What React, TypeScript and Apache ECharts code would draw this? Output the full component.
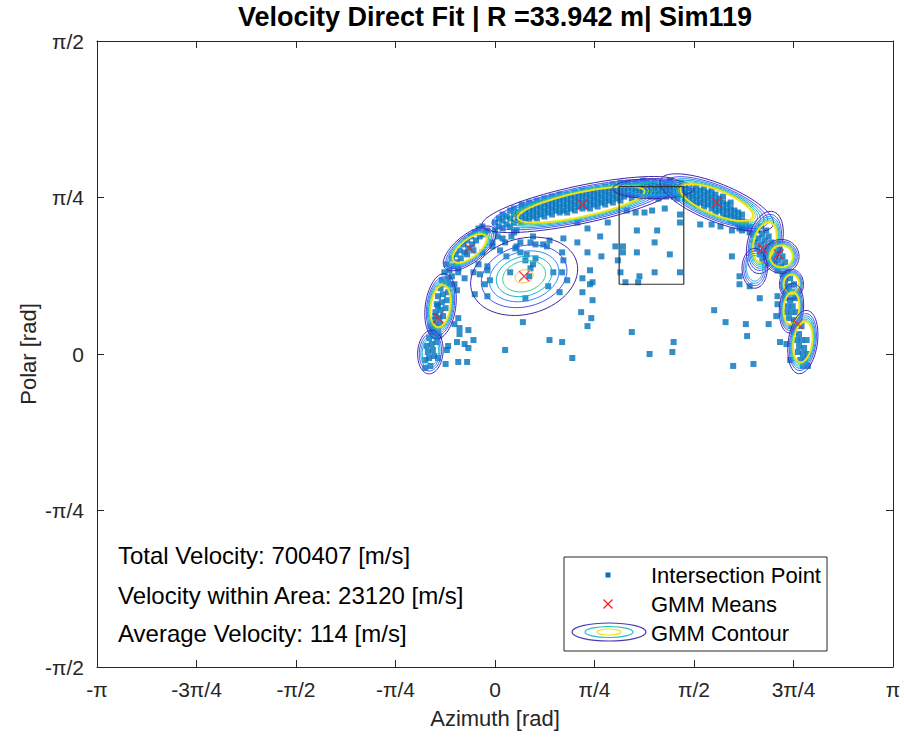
import React, { useEffect, useRef } from 'react';
import * as echarts from 'echarts';

const TITLE = 'Velocity Direct Fit | R =33.942 m| Sim119';
const X_NAME = 'Azimuth [rad]';
const Y_NAME = 'Polar [rad]';
const X_TICK_LABELS = ['-π', '-3π/4', '-π/2', '-π/4', '0', 'π/4', 'π/2', '3π/4', 'π'];
const Y_TICK_LABELS = ['-π/2', '-π/4', '0', 'π/4', 'π/2'];
const STAT_LINES = ['Total Velocity: 700407 [m/s]', 'Velocity within Area: 23120 [m/s]', 'Average Velocity: 114 [m/s]'];
const LEGEND_NAMES = ['Intersection Point', 'GMM Means', 'GMM Contour'];

// intersection points [azimuth, polar] (rad)
const BAND_LEFT_LEG = [
  [-0.55, -0.07], [-0.51, -0.06], [-0.55, -0.03], [-0.52, -0.02], [-0.48, -0.01], [-0.53, 0.01], [-0.49, 0.02],
  [-0.54, 0.04], [-0.5, 0.05], [-0.46, 0.06], [-0.52, 0.08], [-0.48, 0.09], [-0.44, 0.09], [-0.5, 0.11], [-0.45, 0.12],
  [-0.51, 0.14], [-0.47, 0.15], [-0.43, 0.15], [-0.49, 0.17], [-0.44, 0.18], [-0.41, 0.19], [-0.47, 0.21], [-0.43, 0.22],
  [-0.39, 0.23], [-0.46, 0.25], [-0.42, 0.26], [-0.38, 0.27], [-0.45, 0.29], [-0.41, 0.3], [-0.37, 0.31], [-0.43, 0.33],
  [-0.39, 0.35], [-0.35, 0.35], [-0.42, 0.37], [-0.37, 0.38], [-0.34, 0.39], [-0.47, 0.19], [-0.45, 0.24], [-0.49, 0.12],
];
const BAND_UPPER_LEFT = [
  [-0.4, 0.41], [-0.36, 0.42], [-0.33, 0.44], [-0.38, 0.45], [-0.3, 0.46], [-0.34, 0.48], [-0.27, 0.48], [-0.31, 0.5],
  [-0.24, 0.51], [-0.28, 0.52], [-0.21, 0.53], [-0.25, 0.55], [-0.18, 0.55], [-0.22, 0.57], [-0.15, 0.57], [-0.19, 0.59],
  [-0.12, 0.59], [-0.16, 0.61], [-0.09, 0.6], [-0.13, 0.63], [-0.06, 0.62], [-0.1, 0.64], [-0.22, 0.5], [-0.17, 0.52], [-0.29, 0.43],
];
const BAND_TOP_LEFT = [
  [0.0, 0.62], [0.0, 0.66], [0.03, 0.64], [0.03, 0.68], [0.06, 0.63], [0.06, 0.67], [0.06, 0.7], [0.09, 0.65], [0.09, 0.69],
  [0.12, 0.64], [0.12, 0.68], [0.12, 0.72], [0.15, 0.66], [0.15, 0.7], [0.15, 0.73], [0.18, 0.67], [0.18, 0.71],
  [0.21, 0.66], [0.21, 0.69], [0.21, 0.73], [0.21, 0.75], [0.24, 0.68], [0.24, 0.71], [0.24, 0.74],
  [0.27, 0.67], [0.27, 0.7], [0.27, 0.73], [0.27, 0.76], [0.3, 0.69], [0.3, 0.72], [0.3, 0.75],
  [0.33, 0.68], [0.33, 0.71], [0.33, 0.74], [0.33, 0.77], [0.36, 0.7], [0.36, 0.73], [0.36, 0.76],
  [0.39, 0.69], [0.39, 0.72], [0.39, 0.75], [0.39, 0.78], [0.42, 0.71], [0.42, 0.74], [0.42, 0.77],
  [0.45, 0.7], [0.45, 0.73], [0.45, 0.76], [0.45, 0.79], [0.48, 0.72], [0.48, 0.75], [0.48, 0.78],
  [0.51, 0.71], [0.51, 0.74], [0.51, 0.77], [0.51, 0.8], [0.54, 0.72], [0.54, 0.75], [0.54, 0.78],
  [0.57, 0.71], [0.57, 0.74], [0.57, 0.77], [0.57, 0.8], [0.6, 0.73], [0.6, 0.76], [0.6, 0.79],
  [0.63, 0.72], [0.63, 0.75], [0.63, 0.78], [0.63, 0.81], [0.66, 0.74], [0.66, 0.77], [0.66, 0.8],
  [0.69, 0.73], [0.69, 0.76], [0.69, 0.79], [0.69, 0.82], [0.72, 0.74], [0.72, 0.77], [0.72, 0.8],
  [0.75, 0.73], [0.75, 0.76], [0.75, 0.79], [0.75, 0.82], [0.78, 0.75], [0.78, 0.78], [0.78, 0.81],
  [0.81, 0.74], [0.81, 0.77], [0.81, 0.8], [0.81, 0.83], [0.84, 0.76], [0.84, 0.79], [0.84, 0.82],
  [0.87, 0.75], [0.87, 0.78], [0.87, 0.81], [0.87, 0.84], [0.9, 0.77], [0.9, 0.8], [0.9, 0.83],
  [0.93, 0.76], [0.93, 0.79], [0.93, 0.82], [0.93, 0.85], [0.96, 0.78], [0.96, 0.81], [0.96, 0.84],
  [0.99, 0.77], [0.99, 0.8], [0.99, 0.83], [0.99, 0.86], [1.02, 0.79], [1.02, 0.82], [1.02, 0.85],
  [1.05, 0.8], [1.05, 0.83], [1.05, 0.86], [1.08, 0.78], [1.08, 0.81], [1.08, 0.84],
  [1.11, 0.8], [1.11, 0.83], [1.11, 0.86], [1.14, 0.79], [1.14, 0.82], [1.14, 0.85],
  [1.17, 0.81], [1.17, 0.84], [1.17, 0.87], [1.2, 0.8], [1.2, 0.83], [1.2, 0.86],
];
const BAND_TOP_CENTER = [
  [1.23, 0.79], [1.23, 0.82], [1.23, 0.85], [1.26, 0.8], [1.26, 0.83], [1.26, 0.86], [1.29, 0.78], [1.29, 0.81], [1.29, 0.84],
  [1.32, 0.8], [1.32, 0.83], [1.32, 0.86], [1.35, 0.79], [1.35, 0.82], [1.35, 0.85], [1.38, 0.81], [1.38, 0.84], [1.38, 0.87],
  [1.41, 0.79], [1.41, 0.82], [1.41, 0.85], [1.44, 0.78], [1.44, 0.81], [1.44, 0.84], [1.47, 0.8], [1.47, 0.83], [1.47, 0.86],
  [1.5, 0.78], [1.5, 0.81], [1.5, 0.84], [1.53, 0.77], [1.53, 0.8], [1.53, 0.83],
];
const BAND_TOP_RIGHT = [
  [1.56, 0.76], [1.56, 0.79], [1.56, 0.82], [1.59, 0.75], [1.59, 0.78], [1.59, 0.81], [1.59, 0.84],
  [1.62, 0.76], [1.62, 0.79], [1.62, 0.82], [1.65, 0.74], [1.65, 0.77], [1.65, 0.8], [1.65, 0.83],
  [1.68, 0.75], [1.68, 0.78], [1.68, 0.81], [1.71, 0.73], [1.71, 0.76], [1.71, 0.79], [1.71, 0.82],
  [1.74, 0.71], [1.74, 0.74], [1.74, 0.77], [1.74, 0.8], [1.77, 0.72], [1.77, 0.75], [1.77, 0.78],
  [1.8, 0.7], [1.8, 0.73], [1.8, 0.76], [1.8, 0.79], [1.83, 0.69], [1.83, 0.72], [1.83, 0.75],
  [1.86, 0.67], [1.86, 0.7], [1.86, 0.73], [1.86, 0.76], [1.89, 0.66], [1.89, 0.69], [1.89, 0.72],
  [1.92, 0.65], [1.92, 0.68], [1.92, 0.71], [1.95, 0.64], [1.95, 0.67], [1.95, 0.7],
  [1.98, 0.63], [1.98, 0.66], [2.01, 0.61], [2.01, 0.64],
];
const BAND_RIGHT_LOBES = [
  [2.04, 0.6], [2.07, 0.62], [2.1, 0.64], [2.05, 0.56], [2.08, 0.58], [2.11, 0.6], [2.14, 0.62], [2.07, 0.53],
  [2.1, 0.55], [2.13, 0.57], [2.16, 0.59], [2.09, 0.5], [2.12, 0.52], [2.15, 0.54], [2.18, 0.56], [2.11, 0.47],
  [2.14, 0.49], [2.17, 0.51], [2.2, 0.53], [2.23, 0.55], [2.16, 0.46], [2.19, 0.48], [2.22, 0.5], [2.25, 0.52],
  [2.21, 0.45], [2.24, 0.47], [2.27, 0.49], [2.23, 0.42], [2.26, 0.44], [2.29, 0.46],
];
const BAND_RIGHT_LEG = [
  [2.27, 0.4], [2.31, 0.41], [2.29, 0.37], [2.33, 0.38], [2.28, 0.34], [2.32, 0.34], [2.36, 0.35], [2.3, 0.31],
  [2.34, 0.31], [2.29, 0.28], [2.33, 0.27], [2.37, 0.28], [2.31, 0.24], [2.35, 0.24], [2.3, 0.21], [2.34, 0.21],
  [2.38, 0.21], [2.32, 0.18], [2.36, 0.17], [2.34, 0.14], [2.38, 0.14], [2.42, 0.14], [2.36, 0.11], [2.4, 0.1],
  [2.38, 0.07], [2.42, 0.07], [2.46, 0.07], [2.4, 0.04], [2.44, 0.03], [2.39, 0.01], [2.43, 0.0], [2.47, 0.0],
  [2.41, -0.03], [2.45, -0.03], [2.43, -0.06], [2.47, -0.06],
];
const SCATTER_SPARSE = [
  [0.06, 0.58], [-0.02, 0.54], [-0.1, 0.51], [0.04, 0.52], [0.16, 0.53], [-0.13, 0.45], [-0.17, 0.41], [-0.06, 0.44],
  [-0.29, 0.41], [-0.24, 0.38], [-0.32, 0.35], [-0.16, 0.3], [-0.06, 0.29], [-0.3, 0.32], [-0.29, 0.18], [-0.32, 0.15],
  [-0.28, 0.13], [-0.21, 0.12], [-0.28, 0.1], [-0.3, 0.06], [-0.17, 0.07], [-0.24, 0.05], [-0.21, 0.03], [-0.37, 0.04],
  [-0.38, 0.02], [0.08, 0.02], [0.22, 0.16], [0.24, 0.28], [-0.29, -0.04], [-0.22, -0.04], [-0.39, -0.05], [-0.45, -0.02],
  [0.83, 0.59], [0.65, 0.56], [0.73, 0.51], [0.84, 0.49], [0.53, 0.51], [0.95, 0.54], [0.97, 0.47], [0.89, 0.66],
  [0.73, 0.63], [0.65, 0.66], [0.54, 0.58], [0.43, 0.57], [0.3, 0.59], [0.2, 0.56], [0.3, 0.45], [0.38, 0.55],
  [0.99, 0.41], [0.77, 0.36], [0.69, 0.31], [0.42, 0.34], [0.54, 0.47], [0.15, 0.61], [0.08, 0.56], [0.27, 0.39],
  [0.51, 0.31], [0.69, 0.38], [0.75, 0.35], [0.77, 0.27], [0.68, 0.21], [0.76, 0.18], [0.73, 0.14], [0.43, 0.07],
  [0.53, 0.06], [0.61, -0.02], [1.08, 0.11], [1.22, 0.0], [1.4, 0.01], [1.41, 0.06], [1.03, 0.36], [1.14, 0.39],
  [1.26, 0.41], [1.46, 0.41], [1.73, 0.22], [1.82, 0.16], [1.98, 0.15], [1.99, 0.09], [1.88, -0.06], [2.04, -0.05],
  [1.93, 0.39], [1.93, 0.35], [2.01, 0.34], [2.09, 0.28], [2.16, 0.15], [2.22, 0.19], [1.12, 0.62], [1.28, 0.62],
  [1.26, 0.56], [1.38, 0.5], [1.12, 0.51], [1.01, 0.51], [1.01, 0.54], [1.13, 0.36], [1.46, 0.66], [1.46, 0.7],
  [1.11, 0.71], [1.34, 0.73], [1.24, 0.72], [1.18, 0.71], [1.04, 0.72], [1.62, 0.65], [1.71, 0.65], [1.78, 0.64],
  [1.87, 0.62], [1.87, 0.49], [1.93, 0.63], [2.23, 0.29], [2.23, 0.25], [2.25, 0.06], [2.3, 0.05], [2.33, -0.03],
  [1.95, 0.62], [0.17, 0.54], [0.2, 0.51], [0.09, 0.49], [0.25, 0.5], [0.32, 0.48], [0.41, 0.54], [0.28, 0.43],
  [0.24, 0.47], [0.12, 0.41], [-0.06, 0.42], [-0.12, 0.4], [-0.04, 0.37], [-0.08, 0.35], [0.46, 0.41], [0.53, 0.41],
  [0.57, 0.37], [-0.08, 0.61], [-0.02, 0.56], [0.02, 0.59], [0.13, 0.59], [0.28, 0.56], [0.32, 0.55], [0.17, 0.62],
  [0.75, 0.42],
];

// GMM means
const MEANS_X = [-0.45, -0.2, 0.23, 0.69, 1.75, 2.11, 2.24, 2.39];
const MEANS_Y = [0.18, 0.53, 0.39, 0.75, 0.76, 0.53, 0.5, 0.15];

// area of interest (rectangle)
const AREA_X = [0.98, 1.49];
const AREA_Y = [0.35, 0.84];

// GMM contour components: centre, semi-axes, tilt (deg), profile
const CONTOUR_CX = [0.23, -0.43, -0.51, -0.2, 0.68, 1.25, 1.75, 2.13, 2.26, 2.05, 2.34, 2.34, 2.43];
const CONTOUR_CY = [0.39, 0.24, 0.01, 0.53, 0.75, 0.83, 0.76, 0.56, 0.49, 0.43, 0.35, 0.23, 0.06];
const CONTOUR_RX = [0.43, 0.12, 0.1, 0.25, 0.8, 0.32, 0.48, 0.135, 0.14, 0.1, 0.095, 0.095, 0.115];
const CONTOUR_RY = [0.19, 0.165, 0.11, 0.07, 0.095, 0.05, 0.095, 0.16, 0.085, 0.1, 0.075, 0.125, 0.16];
const CONTOUR_TILT = [15, -8, -5, 38, 12, 0, -22, -15, 0, 0, 0, -5, -8];
const CONTOUR_PROFILE = ['peaked', 'sharp', 'faint', 'sharp', 'sharp', 'faint', 'sharp', 'sharp', 'sharp', 'faint', 'sharp', 'sharp', 'sharp'];
const PROFILE_PEAKED = [[0, 1], [1, 0.8], [2, 0.65], [3, 0.52], [4, 0.4], [6, 0.17]];
const PROFILE_SHARP = [[0, 1], [1, 0.9], [2, 0.83], [3, 0.77], [4, 0.72], [5, 0.68], [7, 0.64]];
const PROFILE_FAINT = [[0, 1], [1, 0.87], [2, 0.75], [3, 0.64]];
const LEVEL_COLORS = ['#3e26a8', '#4852f4', '#2d87f7', '#11b1d6', '#37c897', '#abc739', '#f5b93a', '#f2e416'];

const FONT = '"Liberation Sans", Arial, Helvetica, sans-serif';
const INK = '#262626';

export default function App() {
  const ref = useRef<HTMLDivElement>(null);
  useEffect(() => {
    document.body.style.margin = '0';
    if (!ref.current) return;
    const chart = echarts.init(ref.current, undefined, { renderer: 'svg' });
    const Q = Math.PI / 4;

    const points = [
      ...BAND_LEFT_LEG, ...BAND_UPPER_LEFT, ...BAND_TOP_LEFT, ...BAND_TOP_CENTER,
      ...BAND_TOP_RIGHT, ...BAND_RIGHT_LOBES, ...BAND_RIGHT_LEG, ...SCATTER_SPARSE,
    ];
    const means = MEANS_X.map((x, i) => [x, MEANS_Y[i]]);
    const profiles: Record<string, number[][]> = { peaked: PROFILE_PEAKED, sharp: PROFILE_SHARP, faint: PROFILE_FAINT };
    const contourData: number[][] = [];
    CONTOUR_CX.forEach((cx, i) => {
      profiles[CONTOUR_PROFILE[i]].forEach(([lvl, s]) => {
        contourData.push([cx, CONTOUR_CY[i], CONTOUR_RX[i] * s, CONTOUR_RY[i] * s, CONTOUR_TILT[i], lvl]);
      });
    });
    const area = [
      [AREA_X[0], AREA_Y[0]], [AREA_X[1], AREA_Y[0]], [AREA_X[1], AREA_Y[1]], [AREA_X[0], AREA_Y[1]], [AREA_X[0], AREA_Y[0]],
    ];

    const tickFont = { fontFamily: FONT, fontSize: 21, color: INK };
    const axisLine = { show: true, onZero: false, lineStyle: { color: INK, width: 1 } };
    const axisTick = { show: true, inside: true, length: 7, lineStyle: { color: INK } };
    const baseX = { type: 'value', min: -Math.PI, max: Math.PI, interval: Q, splitLine: { show: false }, axisLine, axisTick };
    const baseY = { type: 'value', min: -Math.PI / 2, max: Math.PI / 2, interval: Q, splitLine: { show: false }, axisLine, axisTick };

    chart.setOption({
      animation: false,
      backgroundColor: '#ffffff',
      grid: { left: 97, right: 11, top: 41, bottom: 80, containLabel: false },
      xAxis: [
        {
          ...baseX, position: 'bottom',
          axisLabel: { ...tickFont, margin: 12, showMinLabel: true, showMaxLabel: true,
            formatter: (v: number) => X_TICK_LABELS[Math.round(v / Q) + 4] ?? '' },
        },
        { ...baseX, position: 'top', axisLabel: { show: false } },
      ],
      yAxis: [
        {
          ...baseY, position: 'left',
          axisLabel: { ...tickFont, margin: 13, showMinLabel: true, showMaxLabel: true,
            formatter: (v: number) => Y_TICK_LABELS[Math.round(v / Q) + 2] ?? '' },
        },
        { ...baseY, position: 'right', axisLabel: { show: false } },
      ],
      series: [
        {
          name: LEGEND_NAMES[0], type: 'scatter', data: points, symbol: 'rect', symbolSize: 6,
          itemStyle: { color: '#0072bd' }, z: 2,
        },
        {
          name: LEGEND_NAMES[2], type: 'custom', data: contourData, z: 3, clip: false,
          encode: { x: 0, y: 1 },
          renderItem: (params: any, api: any) => {
            const c = api.coord([api.value(0), api.value(1)]);
            const sx = api.size([api.value(2), 0])[0];
            const sy = api.size([0, api.value(3)])[1];
            const a = (api.value(4) * Math.PI) / 180;
            const lvl = api.value(5);
            const pts: number[][] = [];
            for (let k = 0; k < 72; k++) {
              const t = (k / 72) * Math.PI * 2;
              const u = sx * Math.cos(t);
              const w = sy * Math.sin(t);
              pts.push([c[0] + u * Math.cos(a) - w * Math.sin(a), c[1] - (u * Math.sin(a) + w * Math.cos(a))]);
            }
            return {
              type: 'polygon', shape: { points: pts },
              style: { fill: 'none', stroke: LEVEL_COLORS[lvl], lineWidth: lvl === 7 ? 1.8 : 1 },
            };
          },
        },
        {
          name: 'Area', type: 'line', data: area, symbol: 'none', z: 4,
          lineStyle: { color: '#333333', width: 1.2 },
        },
        {
          name: LEGEND_NAMES[1], type: 'scatter', data: means, z: 5,
          symbol: 'path://M0 0L10 10M10 0L0 10', symbolSize: 10,
          itemStyle: { color: 'rgba(0,0,0,0)', borderColor: '#ff1a1a', borderWidth: 1.3 },
        },
      ],
      graphic: [
        { type: 'text', x: 495, y: 17, style: { text: TITLE, font: `bold 27px ${FONT}`, fill: '#000', textAlign: 'center', textVerticalAlign: 'middle' } },
        { type: 'text', x: 495, y: 718, style: { text: X_NAME, font: `22px ${FONT}`, fill: INK, textAlign: 'center', textVerticalAlign: 'middle' } },
        { type: 'text', x: 28, y: 354, rotation: Math.PI / 2, style: { text: Y_NAME, font: `22px ${FONT}`, fill: INK, textAlign: 'center', textVerticalAlign: 'middle' } },
        ...STAT_LINES.map((t, i) => ({
          type: 'text', x: 118, y: [555, 595, 633][i],
          style: { text: t, font: `24px ${FONT}`, fill: '#000', textVerticalAlign: 'middle' },
        })),
        { type: 'rect', shape: { x: 564, y: 557, width: 263, height: 94 }, style: { fill: '#fff', stroke: INK, lineWidth: 1 }, z: 10 },
        { type: 'rect', shape: { x: 605.5, y: 572.5, width: 5, height: 5 }, style: { fill: '#0072bd' }, z: 11 },
        { type: 'line', shape: { x1: 603.5, y1: 599.5, x2: 612.5, y2: 608.5 }, style: { stroke: '#ff1a1a', lineWidth: 1.2 }, z: 11 },
        { type: 'line', shape: { x1: 612.5, y1: 599.5, x2: 603.5, y2: 608.5 }, style: { stroke: '#ff1a1a', lineWidth: 1.2 }, z: 11 },
        { type: 'ellipse', shape: { cx: 609, cy: 632, rx: 37, ry: 9 }, style: { fill: 'none', stroke: '#4b3bb0', lineWidth: 1.2 }, z: 11 },
        { type: 'ellipse', shape: { cx: 609, cy: 632, rx: 24, ry: 5.5 }, style: { fill: 'none', stroke: '#1fc0c8', lineWidth: 1.2 }, z: 11 },
        { type: 'ellipse', shape: { cx: 609, cy: 632, rx: 12, ry: 3 }, style: { fill: 'none', stroke: '#f2e416', lineWidth: 1.2 }, z: 11 },
        ...LEGEND_NAMES.map((t, i) => ({
          type: 'text', x: 651, y: [575, 604, 633][i], z: 11,
          style: { text: t, font: `22px ${FONT}`, fill: '#000', textVerticalAlign: 'middle' },
        })),
      ],
    });
    return () => chart.dispose();
  }, []);
  return <div ref={ref} style={{ width: 904, height: 747 }} />;
}
